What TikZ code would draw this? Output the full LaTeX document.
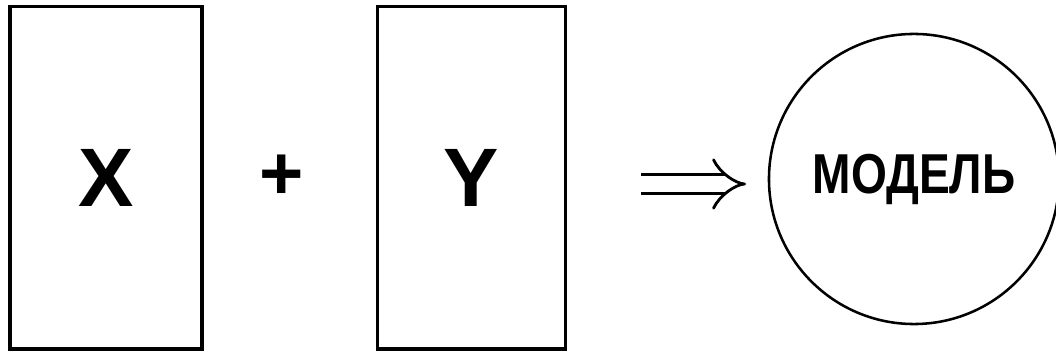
\documentclass[tikz,border=0pt]{standalone}
\usepackage{fontspec}
\setmainfont{Liberation Sans}
\usetikzlibrary{arrows.meta}

\begin{document}
\begin{tikzpicture}[x=0.025cm,y=-0.025cm,
    block/.style={draw, line width=2.2pt, inner sep=0pt, minimum height=8.55cm, font=\fontsize{59}{60}\selectfont\bfseries},
    result/.style={draw, circle, line width=1.8pt, inner sep=0pt, minimum size=7.25cm, font=\fontsize{40}{42}\selectfont\bfseries},
    implies/.style={double, double distance=11pt, line width=2pt, -{Implies}}]
    \useasboundingbox (0,0) rectangle (1056,352);
    % the two factors
    \node[block, minimum width=4.8cm] (x) at (106,178) {X};
    \node[font=\fontsize{54}{56}\selectfont\bfseries] (plus) at (282,177) {+};
    \node[block, minimum width=4.72cm] (y) at (471.5,178) {Y};
    % the model
    \node[result] (model) at (914,179) {\scalebox{0.82}[1]{МОДЕЛЬ}};
    \coordinate (from) at (641,184); \coordinate (to) at (746,184);
    \draw[implies] (from) -- (to);
\end{tikzpicture}
\end{document}
